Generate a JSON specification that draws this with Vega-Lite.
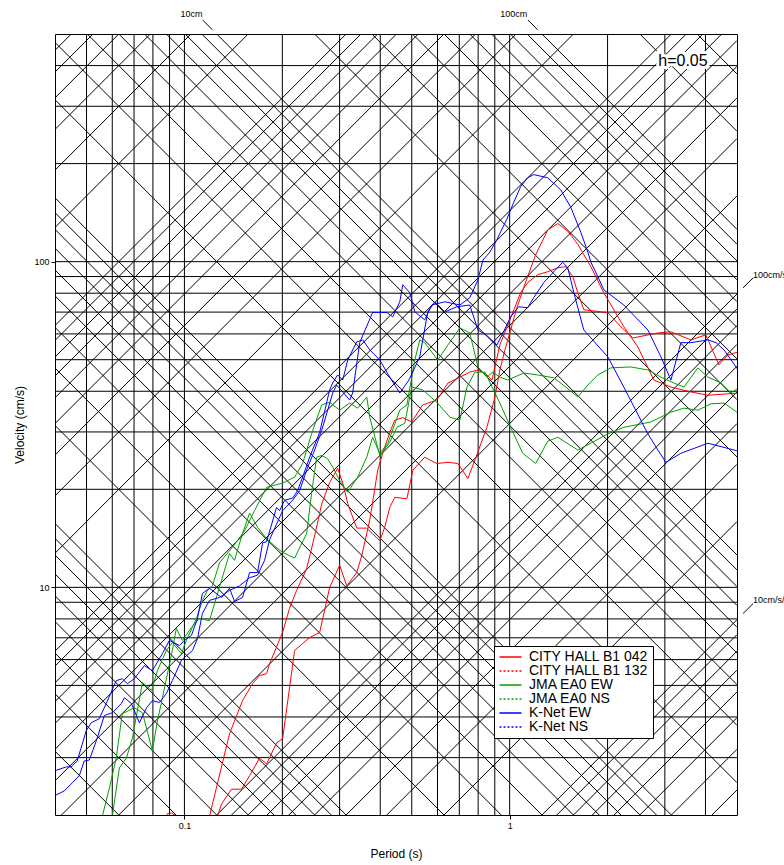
{
  "$schema": "https://vega.github.io/schema/vega-lite/v6.json",
  "autosize": {"type": "none"},
  "padding": {"left": 55, "top": 34, "right": 47, "bottom": 50},
  "width": 682,
  "height": 781,
  "background": "white",
  "config": {
    "view": {"stroke": "black", "strokeWidth": 1},
    "font": "Liberation Sans",
    "axis": {"grid": false, "domain": false, "ticks": true, "tickSize": 4, "tickColor": "black", "labelFontSize": 9, "labelFont": "Liberation Sans", "labelColor": "black", "labelPadding": 2, "titleFont": "Liberation Sans", "titleFontSize": 12, "titleFontWeight": "normal", "titleColor": "black"},
    "legend": {"orient": "none", "legendX": 439, "legendY": 612, "padding": 4, "strokeColor": "black", "fillColor": "white", "symbolSize": 121, "symbolStrokeWidth": 1.5, "labelFontSize": 14, "labelFont": "Liberation Sans", "labelColor": "black", "labelOffset": 17, "rowPadding": 0, "labelLimit": 300, "cornerRadius": 0}
  },
  "datasets": {
    "curves": [
      {"series":"CITY HALL B1 042","period":0.1194,"velocity":1.98},
      {"series":"CITY HALL B1 042","period":0.1376,"velocity":3.55},
      {"series":"CITY HALL B1 042","period":0.1509,"velocity":4.49},
      {"series":"CITY HALL B1 042","period":0.162,"velocity":5.06},
      {"series":"CITY HALL B1 042","period":0.1702,"velocity":5.36},
      {"series":"CITY HALL B1 042","period":0.1789,"velocity":5.43},
      {"series":"CITY HALL B1 042","period":0.1827,"velocity":5.83},
      {"series":"CITY HALL B1 042","period":0.2004,"velocity":7.27},
      {"series":"CITY HALL B1 042","period":0.2105,"velocity":8.62},
      {"series":"CITY HALL B1 042","period":0.2213,"velocity":9.79},
      {"series":"CITY HALL B1 042","period":0.2375,"velocity":11.4},
      {"series":"CITY HALL B1 042","period":0.2514,"velocity":14.4},
      {"series":"CITY HALL B1 042","period":0.2642,"velocity":18.0},
      {"series":"CITY HALL B1 042","period":0.2796,"velocity":21.0},
      {"series":"CITY HALL B1 042","period":0.2959,"velocity":23.2},
      {"series":"CITY HALL B1 042","period":0.3067,"velocity":20.9},
      {"series":"CITY HALL B1 042","period":0.3177,"velocity":18.1},
      {"series":"CITY HALL B1 042","period":0.3386,"velocity":15.2},
      {"series":"CITY HALL B1 042","period":0.3636,"velocity":15.2},
      {"series":"CITY HALL B1 042","period":0.3986,"velocity":13.9},
      {"series":"CITY HALL B1 042","period":0.413,"velocity":15.3},
      {"series":"CITY HALL B1 042","period":0.4279,"velocity":17.6},
      {"series":"CITY HALL B1 042","period":0.4434,"velocity":18.9},
      {"series":"CITY HALL B1 042","period":0.483,"velocity":18.7},
      {"series":"CITY HALL B1 042","period":0.504,"velocity":22.9},
      {"series":"CITY HALL B1 042","period":0.548,"velocity":25.1},
      {"series":"CITY HALL B1 042","period":0.597,"velocity":24.0},
      {"series":"CITY HALL B1 042","period":0.646,"velocity":24.2},
      {"series":"CITY HALL B1 042","period":0.693,"velocity":24.0},
      {"series":"CITY HALL B1 042","period":0.744,"velocity":21.6},
      {"series":"CITY HALL B1 042","period":0.782,"velocity":24.6},
      {"series":"CITY HALL B1 042","period":0.851,"velocity":31.0},
      {"series":"CITY HALL B1 042","period":0.901,"velocity":38.4},
      {"series":"CITY HALL B1 042","period":0.933,"velocity":46.5},
      {"series":"CITY HALL B1 042","period":0.967,"velocity":53.6},
      {"series":"CITY HALL B1 042","period":1.007,"velocity":61.7},
      {"series":"CITY HALL B1 042","period":1.043,"velocity":70.1},
      {"series":"CITY HALL B1 042","period":1.104,"velocity":83.2},
      {"series":"CITY HALL B1 042","period":1.202,"velocity":105},
      {"series":"CITY HALL B1 042","period":1.309,"velocity":125},
      {"series":"CITY HALL B1 042","period":1.406,"velocity":131},
      {"series":"CITY HALL B1 042","period":1.509,"velocity":124},
      {"series":"CITY HALL B1 042","period":1.62,"velocity":113},
      {"series":"CITY HALL B1 042","period":1.777,"velocity":96.5},
      {"series":"CITY HALL B1 042","period":1.947,"velocity":80.3},
      {"series":"CITY HALL B1 042","period":2.244,"velocity":63.1},
      {"series":"CITY HALL B1 042","period":2.478,"velocity":54.7},
      {"series":"CITY HALL B1 042","period":2.776,"velocity":43.3},
      {"series":"CITY HALL B1 042","period":3.132,"velocity":41.2},
      {"series":"CITY HALL B1 042","period":3.61,"velocity":39.8},
      {"series":"CITY HALL B1 042","period":4.07,"velocity":38.9},
      {"series":"CITY HALL B1 042","period":4.56,"velocity":39.2},
      {"series":"CITY HALL B1 042","period":5.04,"velocity":39.5},

      {"series":"CITY HALL B1 132","period":0.0838,"velocity":1.79},
      {"series":"CITY HALL B1 132","period":0.0887,"velocity":2.02},
      {"series":"CITY HALL B1 132","period":0.0912,"velocity":2.03},
      {"series":"CITY HALL B1 132","period":0.0951,"velocity":1.97},
      {"series":"CITY HALL B1 132","period":0.1,"velocity":1.72},
      {"series":"CITY HALL B1 132","period":0.1211,"velocity":1.79},
      {"series":"CITY HALL B1 132","period":0.1264,"velocity":1.98},
      {"series":"CITY HALL B1 132","period":0.13,"velocity":2.16},
      {"series":"CITY HALL B1 132","period":0.1395,"velocity":2.4},
      {"series":"CITY HALL B1 132","period":0.1498,"velocity":2.4},
      {"series":"CITY HALL B1 132","period":0.1586,"velocity":2.64},
      {"series":"CITY HALL B1 132","period":0.1702,"velocity":2.99},
      {"series":"CITY HALL B1 132","period":0.1789,"velocity":2.87},
      {"series":"CITY HALL B1 132","period":0.192,"velocity":3.33},
      {"series":"CITY HALL B1 132","period":0.2004,"velocity":3.43},
      {"series":"CITY HALL B1 132","period":0.2182,"velocity":6.4},
      {"series":"CITY HALL B1 132","period":0.2426,"velocity":7.01},
      {"series":"CITY HALL B1 132","period":0.2605,"velocity":7.27},
      {"series":"CITY HALL B1 132","period":0.2796,"velocity":10.0},
      {"series":"CITY HALL B1 132","period":0.3002,"velocity":11.7},
      {"series":"CITY HALL B1 132","period":0.3155,"velocity":10.1},
      {"series":"CITY HALL B1 132","period":0.3386,"velocity":11.1},
      {"series":"CITY HALL B1 132","period":0.3509,"velocity":12.5},
      {"series":"CITY HALL B1 132","period":0.3714,"velocity":16.1},
      {"series":"CITY HALL B1 132","period":0.393,"velocity":22.9},
      {"series":"CITY HALL B1 132","period":0.407,"velocity":25.8},
      {"series":"CITY HALL B1 132","period":0.4279,"velocity":29.9},
      {"series":"CITY HALL B1 132","period":0.4434,"velocity":32.6},
      {"series":"CITY HALL B1 132","period":0.469,"velocity":33.2},
      {"series":"CITY HALL B1 132","period":0.5,"velocity":32.2},
      {"series":"CITY HALL B1 132","period":0.54,"velocity":36.3},
      {"series":"CITY HALL B1 132","period":0.597,"velocity":37.6},
      {"series":"CITY HALL B1 132","period":0.646,"velocity":42.4},
      {"series":"CITY HALL B1 132","period":0.703,"velocity":44.2},
      {"series":"CITY HALL B1 132","period":0.754,"velocity":45.8},
      {"series":"CITY HALL B1 132","period":0.799,"velocity":46.5},
      {"series":"CITY HALL B1 132","period":0.851,"velocity":44.9},
      {"series":"CITY HALL B1 132","period":0.882,"velocity":43.3},
      {"series":"CITY HALL B1 132","period":0.933,"velocity":55.5},
      {"series":"CITY HALL B1 132","period":1.007,"velocity":67.2},
      {"series":"CITY HALL B1 132","period":1.081,"velocity":80.3},
      {"series":"CITY HALL B1 132","period":1.136,"velocity":86.2},
      {"series":"CITY HALL B1 132","period":1.219,"velocity":91.2},
      {"series":"CITY HALL B1 132","period":1.309,"velocity":93.1},
      {"series":"CITY HALL B1 132","period":1.406,"velocity":95.8},
      {"series":"CITY HALL B1 132","period":1.488,"velocity":96.5},
      {"series":"CITY HALL B1 132","period":1.563,"velocity":89.9},
      {"series":"CITY HALL B1 132","period":1.62,"velocity":80.3},
      {"series":"CITY HALL B1 132","period":1.69,"velocity":71.2},
      {"series":"CITY HALL B1 132","period":1.906,"velocity":70.1},
      {"series":"CITY HALL B1 132","period":2.004,"velocity":69.7},
      {"series":"CITY HALL B1 132","period":2.197,"velocity":63.1},
      {"series":"CITY HALL B1 132","period":2.392,"velocity":58.3},
      {"series":"CITY HALL B1 132","period":2.856,"velocity":60.4},
      {"series":"CITY HALL B1 132","period":3.132,"velocity":60.9},
      {"series":"CITY HALL B1 132","period":3.61,"velocity":57.5},
      {"series":"CITY HALL B1 132","period":4.01,"velocity":59.6},
      {"series":"CITY HALL B1 132","period":4.4,"velocity":48.2},
      {"series":"CITY HALL B1 132","period":4.69,"velocity":51.7},
      {"series":"CITY HALL B1 132","period":5.04,"velocity":52.8},

      {"series":"JMA EA0 EW","period":0.0551,"velocity":1.85},
      {"series":"JMA EA0 EW","period":0.0559,"velocity":1.98},
      {"series":"JMA EA0 EW","period":0.0588,"velocity":2.42},
      {"series":"JMA EA0 EW","period":0.0617,"velocity":2.99},
      {"series":"JMA EA0 EW","period":0.0644,"velocity":4.09},
      {"series":"JMA EA0 EW","period":0.0701,"velocity":4.27},
      {"series":"JMA EA0 EW","period":0.0743,"velocity":4.12},
      {"series":"JMA EA0 EW","period":0.0797,"velocity":3.15},
      {"series":"JMA EA0 EW","period":0.0826,"velocity":3.89},
      {"series":"JMA EA0 EW","period":0.0856,"velocity":4.58},
      {"series":"JMA EA0 EW","period":0.0918,"velocity":6.4},
      {"series":"JMA EA0 EW","period":0.0944,"velocity":7.48},
      {"series":"JMA EA0 EW","period":0.0986,"velocity":6.87},
      {"series":"JMA EA0 EW","period":0.1051,"velocity":7.53},
      {"series":"JMA EA0 EW","period":0.1112,"velocity":8.03},
      {"series":"JMA EA0 EW","period":0.1194,"velocity":7.9},
      {"series":"JMA EA0 EW","period":0.1254,"velocity":9.31},
      {"series":"JMA EA0 EW","period":0.13,"velocity":10.5},
      {"series":"JMA EA0 EW","period":0.1376,"velocity":12.7},
      {"series":"JMA EA0 EW","period":0.1426,"velocity":12.1},
      {"series":"JMA EA0 EW","period":0.1498,"velocity":14.3},
      {"series":"JMA EA0 EW","period":0.1586,"velocity":16.9},
      {"series":"JMA EA0 EW","period":0.1678,"velocity":15.3},
      {"series":"JMA EA0 EW","period":0.1789,"velocity":14.1},
      {"series":"JMA EA0 EW","period":0.1893,"velocity":13.4},
      {"series":"JMA EA0 EW","period":0.2004,"velocity":12.8},
      {"series":"JMA EA0 EW","period":0.2182,"velocity":12.3},
      {"series":"JMA EA0 EW","period":0.2291,"velocity":13.6},
      {"series":"JMA EA0 EW","period":0.2375,"velocity":14.6},
      {"series":"JMA EA0 EW","period":0.246,"velocity":19.4},
      {"series":"JMA EA0 EW","period":0.255,"velocity":25.1},
      {"series":"JMA EA0 EW","period":0.2642,"velocity":25.4},
      {"series":"JMA EA0 EW","period":0.2757,"velocity":24.8},
      {"series":"JMA EA0 EW","period":0.2856,"velocity":23.4},
      {"series":"JMA EA0 EW","period":0.3002,"velocity":21.3},
      {"series":"JMA EA0 EW","period":0.3177,"velocity":19.6},
      {"series":"JMA EA0 EW","period":0.3409,"velocity":21.8},
      {"series":"JMA EA0 EW","period":0.3636,"velocity":25.1},
      {"series":"JMA EA0 EW","period":0.379,"velocity":28.9},
      {"series":"JMA EA0 EW","period":0.3986,"velocity":25.8},
      {"series":"JMA EA0 EW","period":0.422,"velocity":27.7},
      {"series":"JMA EA0 EW","period":0.4594,"velocity":35.0},
      {"series":"JMA EA0 EW","period":0.483,"velocity":36.3},
      {"series":"JMA EA0 EW","period":0.511,"velocity":49.9},
      {"series":"JMA EA0 EW","period":0.529,"velocity":57.5},
      {"series":"JMA EA0 EW","period":0.548,"velocity":56.4},
      {"series":"JMA EA0 EW","period":0.601,"velocity":49.9},
      {"series":"JMA EA0 EW","period":0.646,"velocity":55.5},
      {"series":"JMA EA0 EW","period":0.703,"velocity":62.6},
      {"series":"JMA EA0 EW","period":0.754,"velocity":60.4},
      {"series":"JMA EA0 EW","period":0.799,"velocity":47.5},
      {"series":"JMA EA0 EW","period":0.851,"velocity":44.2},
      {"series":"JMA EA0 EW","period":0.888,"velocity":45.8},
      {"series":"JMA EA0 EW","period":0.933,"velocity":44.2},
      {"series":"JMA EA0 EW","period":0.987,"velocity":43.3},
      {"series":"JMA EA0 EW","period":1.104,"velocity":45.5},
      {"series":"JMA EA0 EW","period":1.219,"velocity":44.9},
      {"series":"JMA EA0 EW","period":1.366,"velocity":44.0},
      {"series":"JMA EA0 EW","period":1.488,"velocity":41.2},
      {"series":"JMA EA0 EW","period":1.62,"velocity":38.4},
      {"series":"JMA EA0 EW","period":1.739,"velocity":41.8},
      {"series":"JMA EA0 EW","period":1.867,"velocity":44.9},
      {"series":"JMA EA0 EW","period":2.047,"velocity":47.2},
      {"series":"JMA EA0 EW","period":2.359,"velocity":47.5},
      {"series":"JMA EA0 EW","period":2.66,"velocity":46.5},
      {"series":"JMA EA0 EW","period":2.918,"velocity":44.2},
      {"series":"JMA EA0 EW","period":3.2,"velocity":42.4},
      {"series":"JMA EA0 EW","period":3.435,"velocity":41.2},
      {"series":"JMA EA0 EW","period":3.79,"velocity":47.2},
      {"series":"JMA EA0 EW","period":4.07,"velocity":44.2},
      {"series":"JMA EA0 EW","period":4.47,"velocity":42.4},
      {"series":"JMA EA0 EW","period":4.79,"velocity":39.5},
      {"series":"JMA EA0 EW","period":5.04,"velocity":40.9},

      {"series":"JMA EA0 NS","period":0.0588,"velocity":1.79},
      {"series":"JMA EA0 NS","period":0.06,"velocity":1.98},
      {"series":"JMA EA0 NS","period":0.0631,"velocity":2.79},
      {"series":"JMA EA0 NS","period":0.0663,"velocity":2.99},
      {"series":"JMA EA0 NS","period":0.0692,"velocity":3.45},
      {"series":"JMA EA0 NS","period":0.0743,"velocity":5.1},
      {"series":"JMA EA0 NS","period":0.0792,"velocity":4.82},
      {"series":"JMA EA0 NS","period":0.0826,"velocity":5.55},
      {"series":"JMA EA0 NS","period":0.088,"velocity":6.4},
      {"series":"JMA EA0 NS","period":0.0918,"velocity":6.77},
      {"series":"JMA EA0 NS","period":0.0979,"velocity":6.26},
      {"series":"JMA EA0 NS","period":0.1014,"velocity":6.87},
      {"series":"JMA EA0 NS","period":0.1089,"velocity":8.03},
      {"series":"JMA EA0 NS","period":0.1136,"velocity":9.12},
      {"series":"JMA EA0 NS","period":0.1177,"velocity":9.79},
      {"series":"JMA EA0 NS","period":0.1219,"velocity":10.1},
      {"series":"JMA EA0 NS","period":0.1282,"velocity":11.9},
      {"series":"JMA EA0 NS","period":0.1406,"velocity":13.3},
      {"series":"JMA EA0 NS","period":0.153,"velocity":14.9},
      {"series":"JMA EA0 NS","period":0.1643,"velocity":17.2},
      {"series":"JMA EA0 NS","period":0.1789,"velocity":20.3},
      {"series":"JMA EA0 NS","period":0.2004,"velocity":20.9},
      {"series":"JMA EA0 NS","period":0.2182,"velocity":21.8},
      {"series":"JMA EA0 NS","period":0.2309,"velocity":24.0},
      {"series":"JMA EA0 NS","period":0.246,"velocity":29.6},
      {"series":"JMA EA0 NS","period":0.2642,"velocity":36.3},
      {"series":"JMA EA0 NS","period":0.2796,"velocity":37.0},
      {"series":"JMA EA0 NS","period":0.3002,"velocity":35.0},
      {"series":"JMA EA0 NS","period":0.3222,"velocity":36.8},
      {"series":"JMA EA0 NS","period":0.3409,"velocity":35.5},
      {"series":"JMA EA0 NS","period":0.3636,"velocity":38.4},
      {"series":"JMA EA0 NS","period":0.3714,"velocity":33.3},
      {"series":"JMA EA0 NS","period":0.3986,"velocity":25.4},
      {"series":"JMA EA0 NS","period":0.4279,"velocity":27.9},
      {"series":"JMA EA0 NS","period":0.45,"velocity":31.0},
      {"series":"JMA EA0 NS","period":0.476,"velocity":31.9},
      {"series":"JMA EA0 NS","period":0.5,"velocity":41.2},
      {"series":"JMA EA0 NS","period":0.54,"velocity":40.4},
      {"series":"JMA EA0 NS","period":0.597,"velocity":37.0},
      {"series":"JMA EA0 NS","period":0.655,"velocity":33.3},
      {"series":"JMA EA0 NS","period":0.703,"velocity":32.6},
      {"series":"JMA EA0 NS","period":0.739,"velocity":41.2},
      {"series":"JMA EA0 NS","period":0.782,"velocity":45.8},
      {"series":"JMA EA0 NS","period":0.839,"velocity":45.8},
      {"series":"JMA EA0 NS","period":0.933,"velocity":36.8},
      {"series":"JMA EA0 NS","period":1.007,"velocity":31.0},
      {"series":"JMA EA0 NS","period":1.097,"velocity":25.8},
      {"series":"JMA EA0 NS","period":1.202,"velocity":24.0},
      {"series":"JMA EA0 NS","period":1.309,"velocity":28.1},
      {"series":"JMA EA0 NS","period":1.406,"velocity":28.9},
      {"series":"JMA EA0 NS","period":1.62,"velocity":26.4},
      {"series":"JMA EA0 NS","period":1.777,"velocity":27.7},
      {"series":"JMA EA0 NS","period":2.004,"velocity":29.6},
      {"series":"JMA EA0 NS","period":2.244,"velocity":31.0},
      {"series":"JMA EA0 NS","period":2.718,"velocity":32.2},
      {"series":"JMA EA0 NS","period":3.132,"velocity":34.5},
      {"series":"JMA EA0 NS","period":3.435,"velocity":35.5},
      {"series":"JMA EA0 NS","period":3.79,"velocity":35.0},
      {"series":"JMA EA0 NS","period":4.16,"velocity":36.6},
      {"series":"JMA EA0 NS","period":4.56,"velocity":36.8},
      {"series":"JMA EA0 NS","period":5.04,"velocity":34.3},

      {"series":"K-Net EW","period":0.0398,"velocity":2.29},
      {"series":"K-Net EW","period":0.0427,"velocity":2.37},
      {"series":"K-Net EW","period":0.0452,"velocity":2.51},
      {"series":"K-Net EW","period":0.0475,"velocity":2.64},
      {"series":"K-Net EW","period":0.0492,"velocity":2.93},
      {"series":"K-Net EW","period":0.051,"velocity":2.95},
      {"series":"K-Net EW","period":0.0536,"velocity":3.38},
      {"series":"K-Net EW","period":0.0567,"velocity":4.04},
      {"series":"K-Net EW","period":0.06,"velocity":4.12},
      {"series":"K-Net EW","period":0.064,"velocity":4.4},
      {"series":"K-Net EW","period":0.0654,"velocity":4.58},
      {"series":"K-Net EW","period":0.0687,"velocity":4.4},
      {"series":"K-Net EW","period":0.0727,"velocity":3.84},
      {"series":"K-Net EW","period":0.0765,"velocity":4.27},
      {"series":"K-Net EW","period":0.0797,"velocity":4.49},
      {"series":"K-Net EW","period":0.0838,"velocity":4.43},
      {"series":"K-Net EW","period":0.088,"velocity":4.72},
      {"series":"K-Net EW","period":0.0918,"velocity":5.17},
      {"series":"K-Net EW","period":0.0979,"velocity":5.97},
      {"series":"K-Net EW","period":0.1,"velocity":6.09},
      {"series":"K-Net EW","period":0.1059,"velocity":6.4},
      {"series":"K-Net EW","period":0.1097,"velocity":6.97},
      {"series":"K-Net EW","period":0.1136,"velocity":8.32},
      {"series":"K-Net EW","period":0.1194,"velocity":9.12},
      {"series":"K-Net EW","period":0.1282,"velocity":9.31},
      {"series":"K-Net EW","period":0.1376,"velocity":9.79},
      {"series":"K-Net EW","period":0.1477,"velocity":10.1},
      {"series":"K-Net EW","period":0.1586,"velocity":10.7},
      {"series":"K-Net EW","period":0.1678,"velocity":10.9},
      {"series":"K-Net EW","period":0.1764,"velocity":12.1},
      {"series":"K-Net EW","period":0.1827,"velocity":14.0},
      {"series":"K-Net EW","period":0.2004,"velocity":17.2},
      {"series":"K-Net EW","period":0.2151,"velocity":18.5},
      {"series":"K-Net EW","period":0.226,"velocity":19.8},
      {"series":"K-Net EW","period":0.2375,"velocity":22.9},
      {"series":"K-Net EW","period":0.2514,"velocity":26.4},
      {"series":"K-Net EW","period":0.2642,"velocity":30.3},
      {"series":"K-Net EW","period":0.2757,"velocity":35.0},
      {"series":"K-Net EW","period":0.2856,"velocity":39.5},
      {"series":"K-Net EW","period":0.2938,"velocity":41.8},
      {"series":"K-Net EW","period":0.3067,"velocity":39.8},
      {"series":"K-Net EW","period":0.3222,"velocity":37.6},
      {"series":"K-Net EW","period":0.329,"velocity":39.5},
      {"series":"K-Net EW","period":0.3459,"velocity":56.4},
      {"series":"K-Net EW","period":0.379,"velocity":69.8},
      {"series":"K-Net EW","period":0.419,"velocity":69.8},
      {"series":"K-Net EW","period":0.437,"velocity":67.7},
      {"series":"K-Net EW","period":0.4594,"velocity":75.3},
      {"series":"K-Net EW","period":0.469,"velocity":84.9},
      {"series":"K-Net EW","period":0.493,"velocity":80.3},
      {"series":"K-Net EW","period":0.511,"velocity":70.1},
      {"series":"K-Net EW","period":0.548,"velocity":66.3},
      {"series":"K-Net EW","period":0.576,"velocity":73.6},
      {"series":"K-Net EW","period":0.632,"velocity":75.3},
      {"series":"K-Net EW","period":0.703,"velocity":73.6},
      {"series":"K-Net EW","period":0.754,"velocity":77.5},
      {"series":"K-Net EW","period":0.799,"velocity":87.9},
      {"series":"K-Net EW","period":0.827,"velocity":101},
      {"series":"K-Net EW","period":0.869,"velocity":107},
      {"series":"K-Net EW","period":0.914,"velocity":117},
      {"series":"K-Net EW","period":0.98,"velocity":135},
      {"series":"K-Net EW","period":1.029,"velocity":152},
      {"series":"K-Net EW","period":1.081,"velocity":170},
      {"series":"K-Net EW","period":1.136,"velocity":181},
      {"series":"K-Net EW","period":1.185,"velocity":185},
      {"series":"K-Net EW","period":1.309,"velocity":181},
      {"series":"K-Net EW","period":1.436,"velocity":166},
      {"series":"K-Net EW","period":1.541,"velocity":147},
      {"series":"K-Net EW","period":1.655,"velocity":123},
      {"series":"K-Net EW","period":1.739,"velocity":107},
      {"series":"K-Net EW","period":1.777,"velocity":99.6},
      {"series":"K-Net EW","period":1.867,"velocity":89.9},
      {"series":"K-Net EW","period":1.947,"velocity":82.0},
      {"series":"K-Net EW","period":2.244,"velocity":73.6},
      {"series":"K-Net EW","period":2.66,"velocity":61.7},
      {"series":"K-Net EW","period":2.918,"velocity":51.0},
      {"series":"K-Net EW","period":3.132,"velocity":43.3},
      {"series":"K-Net EW","period":3.36,"velocity":56.4},
      {"series":"K-Net EW","period":3.61,"velocity":56.4},
      {"series":"K-Net EW","period":4.07,"velocity":57.5},
      {"series":"K-Net EW","period":4.31,"velocity":56.4},
      {"series":"K-Net EW","period":4.56,"velocity":53.6},
      {"series":"K-Net EW","period":5.04,"velocity":46.5},

      {"series":"K-Net NS","period":0.0398,"velocity":2.73},
      {"series":"K-Net NS","period":0.0433,"velocity":2.81},
      {"series":"K-Net NS","period":0.0449,"velocity":2.81},
      {"series":"K-Net NS","period":0.0468,"velocity":2.93},
      {"series":"K-Net NS","period":0.0499,"velocity":3.63},
      {"series":"K-Net NS","period":0.0517,"velocity":3.84},
      {"series":"K-Net NS","period":0.0547,"velocity":3.95},
      {"series":"K-Net NS","period":0.0575,"velocity":4.4},
      {"series":"K-Net NS","period":0.0617,"velocity":5.17},
      {"series":"K-Net NS","period":0.0644,"velocity":5.24},
      {"series":"K-Net NS","period":0.0668,"velocity":5.06},
      {"series":"K-Net NS","period":0.0701,"velocity":5.24},
      {"series":"K-Net NS","period":0.0753,"velocity":5.75},
      {"series":"K-Net NS","period":0.0797,"velocity":5.55},
      {"series":"K-Net NS","period":0.0856,"velocity":6.26},
      {"series":"K-Net NS","period":0.0899,"velocity":6.87},
      {"series":"K-Net NS","period":0.0965,"velocity":6.63},
      {"series":"K-Net NS","period":0.1,"velocity":6.87},
      {"series":"K-Net NS","period":0.1051,"velocity":7.12},
      {"series":"K-Net NS","period":0.1097,"velocity":8.03},
      {"series":"K-Net NS","period":0.1136,"velocity":9.58},
      {"series":"K-Net NS","period":0.1194,"velocity":9.93},
      {"series":"K-Net NS","period":0.13,"velocity":9.31},
      {"series":"K-Net NS","period":0.1376,"velocity":9.93},
      {"series":"K-Net NS","period":0.1426,"velocity":9.05},
      {"series":"K-Net NS","period":0.1509,"velocity":9.31},
      {"series":"K-Net NS","period":0.1586,"velocity":11.1},
      {"series":"K-Net NS","period":0.1678,"velocity":11.1},
      {"series":"K-Net NS","period":0.1739,"velocity":13.7},
      {"series":"K-Net NS","period":0.1789,"velocity":13.8},
      {"series":"K-Net NS","period":0.192,"velocity":17.6},
      {"series":"K-Net NS","period":0.1961,"velocity":17.2},
      {"series":"K-Net NS","period":0.2032,"velocity":18.5},
      {"series":"K-Net NS","period":0.2151,"velocity":18.8},
      {"series":"K-Net NS","period":0.2228,"velocity":19.8},
      {"series":"K-Net NS","period":0.2309,"velocity":21.8},
      {"series":"K-Net NS","period":0.2426,"velocity":25.1},
      {"series":"K-Net NS","period":0.2605,"velocity":29.9},
      {"series":"K-Net NS","period":0.2796,"velocity":40.4},
      {"series":"K-Net NS","period":0.2856,"velocity":42.4},
      {"series":"K-Net NS","period":0.2959,"velocity":44.9},
      {"series":"K-Net NS","period":0.3067,"velocity":43.3},
      {"series":"K-Net NS","period":0.3177,"velocity":49.9},
      {"series":"K-Net NS","period":0.3386,"velocity":56.7},
      {"series":"K-Net NS","period":0.3533,"velocity":57.5},
      {"series":"K-Net NS","period":0.3714,"velocity":53.6},
      {"series":"K-Net NS","period":0.3986,"velocity":49.9},
      {"series":"K-Net NS","period":0.4279,"velocity":44.2},
      {"series":"K-Net NS","period":0.4594,"velocity":39.5},
      {"series":"K-Net NS","period":0.49,"velocity":43.3},
      {"series":"K-Net NS","period":0.529,"velocity":51.0},
      {"series":"K-Net NS","period":0.56,"velocity":70.1},
      {"series":"K-Net NS","period":0.589,"velocity":75.3},
      {"series":"K-Net NS","period":0.632,"velocity":70.1},
      {"series":"K-Net NS","period":0.688,"velocity":72.7},
      {"series":"K-Net NS","period":0.754,"velocity":73.6},
      {"series":"K-Net NS","period":0.799,"velocity":61.7},
      {"series":"K-Net NS","period":0.851,"velocity":59.3},
      {"series":"K-Net NS","period":0.914,"velocity":55.5},
      {"series":"K-Net NS","period":0.954,"velocity":60.4},
      {"series":"K-Net NS","period":1.007,"velocity":67.7},
      {"series":"K-Net NS","period":1.066,"velocity":72.7},
      {"series":"K-Net NS","period":1.136,"velocity":72.2},
      {"series":"K-Net NS","period":1.185,"velocity":77.5},
      {"series":"K-Net NS","period":1.273,"velocity":86.2},
      {"series":"K-Net NS","period":1.366,"velocity":93.1},
      {"series":"K-Net NS","period":1.456,"velocity":99.6},
      {"series":"K-Net NS","period":1.509,"velocity":95.8},
      {"series":"K-Net NS","period":1.575,"velocity":80.3},
      {"series":"K-Net NS","period":1.69,"velocity":61.7},
      {"series":"K-Net NS","period":2.004,"velocity":51.0},
      {"series":"K-Net NS","period":2.244,"velocity":41.2},
      {"series":"K-Net NS","period":2.66,"velocity":29.6},
      {"series":"K-Net NS","period":2.856,"velocity":26.4},
      {"series":"K-Net NS","period":3.022,"velocity":24.2},
      {"series":"K-Net NS","period":3.36,"velocity":25.8},
      {"series":"K-Net NS","period":4.07,"velocity":27.7},
      {"series":"K-Net NS","period":4.56,"velocity":26.9},
      {"series":"K-Net NS","period":5.04,"velocity":26.2}
    ],
    "diagonals": [
      {"p1":0.04,"v1":3.1416,"p2":5,"v2":0.025133},
      {"p1":0.04,"v1":4.7124,"p2":5,"v2":0.0377},
      {"p1":0.04,"v1":6.2832,"p2":5,"v2":0.05027},
      {"p1":0.04,"v1":7.854,"p2":5,"v2":0.06283},
      {"p1":0.04,"v1":9.4248,"p2":5,"v2":0.0754},
      {"p1":0.04,"v1":10.996,"p2":5,"v2":0.08796},
      {"p1":0.04,"v1":12.566,"p2":5,"v2":0.10053},
      {"p1":0.04,"v1":14.137,"p2":5,"v2":0.1131},
      {"p1":0.04,"v1":15.708,"p2":5,"v2":0.12566},
      {"p1":0.04,"v1":31.416,"p2":5,"v2":0.25133},
      {"p1":0.04,"v1":47.124,"p2":5,"v2":0.377},
      {"p1":0.04,"v1":62.832,"p2":5,"v2":0.50265},
      {"p1":0.04,"v1":78.54,"p2":5,"v2":0.62832},
      {"p1":0.04,"v1":94.248,"p2":5,"v2":0.75398},
      {"p1":0.04,"v1":109.956,"p2":5,"v2":0.87965},
      {"p1":0.04,"v1":125.664,"p2":5,"v2":1.00531},
      {"p1":0.04,"v1":141.372,"p2":5,"v2":1.13097},
      {"p1":0.04,"v1":157.08,"p2":5,"v2":1.25664},
      {"p1":0.04,"v1":314.16,"p2":5,"v2":2.51327},
      {"p1":0.04,"v1":471.24,"p2":5,"v2":3.76991},
      {"p1":0.04,"v1":628.32,"p2":5,"v2":5.02655},
      {"p1":0.04,"v1":785.4,"p2":5,"v2":6.28319},
      {"p1":0.04,"v1":942.48,"p2":5,"v2":7.53982},
      {"p1":0.04,"v1":1099.56,"p2":5,"v2":8.79646},
      {"p1":0.04,"v1":1256.64,"p2":5,"v2":10.0531},
      {"p1":0.04,"v1":1413.72,"p2":5,"v2":11.3097},
      {"p1":0.04,"v1":1570.8,"p2":5,"v2":12.5664},
      {"p1":0.04,"v1":3141.6,"p2":5,"v2":25.1327},
      {"p1":0.04,"v1":4712.4,"p2":5,"v2":37.6991},
      {"p1":0.04,"v1":6283.2,"p2":5,"v2":50.2655},
      {"p1":0.04,"v1":7854,"p2":5,"v2":62.8319},
      {"p1":0.04,"v1":9424.8,"p2":5,"v2":75.3982},
      {"p1":0.04,"v1":10995.6,"p2":5,"v2":87.9646},
      {"p1":0.04,"v1":12566.4,"p2":5,"v2":100.531},
      {"p1":0.04,"v1":14137.2,"p2":5,"v2":113.097},
      {"p1":0.04,"v1":15708,"p2":5,"v2":125.664},
      {"p1":0.04,"v1":31416,"p2":5,"v2":251.327},
      {"p1":0.04,"v1":47124,"p2":5,"v2":376.991},
      {"p1":0.04,"v1":0.019099,"p2":5,"v2":2.38732},
      {"p1":0.04,"v1":0.025465,"p2":5,"v2":3.1831},
      {"p1":0.04,"v1":0.031831,"p2":5,"v2":3.97887},
      {"p1":0.04,"v1":0.038197,"p2":5,"v2":4.77465},
      {"p1":0.04,"v1":0.044563,"p2":5,"v2":5.57042},
      {"p1":0.04,"v1":0.05093,"p2":5,"v2":6.3662},
      {"p1":0.04,"v1":0.057296,"p2":5,"v2":7.16197},
      {"p1":0.04,"v1":0.063662,"p2":5,"v2":7.95775},
      {"p1":0.04,"v1":0.127324,"p2":5,"v2":15.9155},
      {"p1":0.04,"v1":0.190986,"p2":5,"v2":23.8732},
      {"p1":0.04,"v1":0.254648,"p2":5,"v2":31.831},
      {"p1":0.04,"v1":0.31831,"p2":5,"v2":39.7887},
      {"p1":0.04,"v1":0.381972,"p2":5,"v2":47.7465},
      {"p1":0.04,"v1":0.445634,"p2":5,"v2":55.7042},
      {"p1":0.04,"v1":0.509296,"p2":5,"v2":63.662},
      {"p1":0.04,"v1":0.572958,"p2":5,"v2":71.6197},
      {"p1":0.04,"v1":0.63662,"p2":5,"v2":79.5775},
      {"p1":0.04,"v1":1.27324,"p2":5,"v2":159.155},
      {"p1":0.04,"v1":1.90986,"p2":5,"v2":238.732},
      {"p1":0.04,"v1":2.54648,"p2":5,"v2":318.31},
      {"p1":0.04,"v1":3.1831,"p2":5,"v2":397.887},
      {"p1":0.04,"v1":3.81972,"p2":5,"v2":477.465},
      {"p1":0.04,"v1":4.45634,"p2":5,"v2":557.042},
      {"p1":0.04,"v1":5.09296,"p2":5,"v2":636.62},
      {"p1":0.04,"v1":5.72958,"p2":5,"v2":716.197},
      {"p1":0.04,"v1":6.3662,"p2":5,"v2":795.775},
      {"p1":0.04,"v1":12.7324,"p2":5,"v2":1591.55},
      {"p1":0.04,"v1":19.0986,"p2":5,"v2":2387.32},
      {"p1":0.04,"v1":25.4648,"p2":5,"v2":3183.1},
      {"p1":0.04,"v1":31.831,"p2":5,"v2":3978.87},
      {"p1":0.04,"v1":38.1972,"p2":5,"v2":4774.65},
      {"p1":0.04,"v1":44.5634,"p2":5,"v2":5570.42},
      {"p1":0.04,"v1":50.9296,"p2":5,"v2":6366.2},
      {"p1":0.04,"v1":57.2958,"p2":5,"v2":7161.97},
      {"p1":0.04,"v1":63.662,"p2":5,"v2":7957.75},
      {"p1":0.04,"v1":127.324,"p2":5,"v2":15915.5},
      {"p1":0.04,"v1":190.986,"p2":5,"v2":23873.2},
      {"p1":0.04,"v1":254.648,"p2":5,"v2":31831},
      {"p1":0.04,"v1":318.31,"p2":5,"v2":39788.7},
      {"p1":0.04,"v1":381.972,"p2":5,"v2":47746.5},
      {"p1":0.04,"v1":445.634,"p2":5,"v2":55704.2}
    ]
  },
  "layer": [
    {
      "data": {"values": [{"period":0.05},{"period":0.06},{"period":0.07},{"period":0.08},{"period":0.09},{"period":0.1},{"period":0.2},{"period":0.3},{"period":0.4},{"period":0.5},{"period":0.6},{"period":0.7},{"period":0.8},{"period":0.9},{"period":1},{"period":2},{"period":3},{"period":4}]},
      "mark": {"type": "rule", "stroke": "black", "strokeWidth": 1},
      "encoding": {"x": {"field": "period", "type": "quantitative", "scale": {"type": "log", "domain": [0.04, 5], "nice": false},
        "axis": {"values": [0.1, 1], "format": "~g", "title": "Period (s)", "titleY": 38, "titleBaseline": "middle"}}}
    },
    {
      "data": {"values": [{"velocity":3},{"velocity":4},{"velocity":5},{"velocity":6},{"velocity":7},{"velocity":8},{"velocity":9},{"velocity":10},{"velocity":20},{"velocity":30},{"velocity":40},{"velocity":50},{"velocity":60},{"velocity":70},{"velocity":80},{"velocity":90},{"velocity":100},{"velocity":200},{"velocity":300},{"velocity":400}]},
      "mark": {"type": "rule", "stroke": "black", "strokeWidth": 1},
      "encoding": {"y": {"field": "velocity", "type": "quantitative", "scale": {"type": "log", "domain": [2, 500], "nice": false},
        "axis": {"values": [10, 100], "format": "~g", "title": "Velocity (cm/s)", "titleX": -36, "titleBaseline": "middle"}}}
    },
    {
      "data": {"name": "diagonals"},
      "mark": {"type": "rule", "stroke": "black", "strokeWidth": 1, "clip": true},
      "encoding": {
        "x": {"field": "p1", "type": "quantitative", "scale": {"type": "log", "domain": [0.04, 5], "nice": false},
          "axis": {"values": [0.1, 1], "format": "~g", "title": "Period (s)", "titleY": 38, "titleBaseline": "middle"}},
        "x2": {"field": "p2"},
        "y": {"field": "v1", "type": "quantitative", "scale": {"type": "log", "domain": [2, 500], "nice": false},
          "axis": {"values": [10, 100], "format": "~g", "title": "Velocity (cm/s)", "titleX": -36, "titleBaseline": "middle"}},
        "y2": {"field": "v2"}
      }
    },
    {
      "data": {"name": "curves"},
      "mark": {"type": "line", "strokeWidth": 1, "clip": true},
      "encoding": {
        "x": {"field": "period", "type": "quantitative", "scale": {"type": "log", "domain": [0.04, 5], "nice": false},
          "axis": {"values": [0.1, 1], "format": "~g", "title": "Period (s)", "titleY": 38, "titleBaseline": "middle"}},
        "y": {"field": "velocity", "type": "quantitative", "scale": {"type": "log", "domain": [2, 500], "nice": false},
          "axis": {"values": [10, 100], "format": "~g", "title": "Velocity (cm/s)", "titleX": -36, "titleBaseline": "middle"}},
        "color": {"field": "series", "type": "nominal",
                  "scale": {"domain": ["CITY HALL B1 042","CITY HALL B1 132","JMA EA0 EW","JMA EA0 NS","K-Net EW","K-Net NS"],
                            "range": ["#ff0000","#ff0000","#00a000","#00a000","#0000ff","#0000ff"]},
                  "legend": {"title": null, "symbolType": "M-1,0H3", "symbolSize": 121}}
      }
    },
    {
      "data": {"name": "curves"},
      "transform": [{"filter": "datum.velocity < 0"}],
      "mark": {"type": "line", "strokeWidth": 1, "clip": true},
      "encoding": {
        "x": {"field": "period", "type": "quantitative", "scale": {"type": "log", "domain": [0.04, 5], "nice": false},
          "axis": {"values": [0.1, 1], "format": "~g", "title": "Period (s)", "titleY": 38, "titleBaseline": "middle"}},
        "y": {"field": "velocity", "type": "quantitative", "scale": {"type": "log", "domain": [2, 500], "nice": false},
          "axis": {"values": [10, 100], "format": "~g", "title": "Velocity (cm/s)", "titleX": -36, "titleBaseline": "middle"}},
        "color": {"field": "series", "type": "nominal",
                  "scale": {"domain": ["CITY HALL B1 042","CITY HALL B1 132","JMA EA0 EW","JMA EA0 NS","K-Net EW","K-Net NS"],
                            "range": ["#ff0000","#ff0000","#00a000","#00a000","#0000ff","#0000ff"]},
                  "legend": {"title": null, "symbolType": "M-1,0H3", "symbolSize": 121}},
        "strokeDash": {"field": "series", "type": "nominal",
                  "scale": {"domain": ["CITY HALL B1 042","CITY HALL B1 132","JMA EA0 EW","JMA EA0 NS","K-Net EW","K-Net NS"],
                            "range": [[1,0],[2,2],[1,0],[2,2],[1,0],[2,2]]},
                  "legend": {"title": null, "symbolType": "M-1,0H3", "symbolSize": 121}}
      }
    },
    {
      "data": {"values": [
        {"p1":0.1138,"v1":552,"p2":0.1219,"v2":515},
        {"p1":1.138,"v1":552,"p2":1.219,"v2":515},
        {"p1":5.22,"v1":83.1,"p2":5.6,"v2":89.1},
        {"p1":5.22,"v1":8.31,"p2":5.6,"v2":8.91}
      ]},
      "mark": {"type": "rule", "stroke": "black", "strokeWidth": 1, "clip": false},
      "encoding": {
        "x": {"field": "p1", "type": "quantitative", "scale": {"type": "log", "domain": [0.04, 5], "nice": false},
          "axis": {"values": [0.1, 1], "format": "~g", "title": "Period (s)", "titleY": 38, "titleBaseline": "middle"}},
        "x2": {"field": "p2"},
        "y": {"field": "v1", "type": "quantitative", "scale": {"type": "log", "domain": [2, 500], "nice": false},
          "axis": {"values": [10, 100], "format": "~g", "title": "Velocity (cm/s)", "titleX": -36, "titleBaseline": "middle"}},
        "y2": {"field": "v2"}
      }
    },
    {
      "data": {"values": [
        {"label":"10cm","period":0.1051,"velocity":576},
        {"label":"100cm","period":1.029,"velocity":576}
      ]},
      "mark": {"type": "text", "align": "center", "baseline": "middle", "fontSize": 9, "font": "Liberation Sans", "fill": "black", "clip": false},
      "encoding": {
        "x": {"field": "period", "type": "quantitative", "scale": {"type": "log", "domain": [0.04, 5], "nice": false},
          "axis": {"values": [0.1, 1], "format": "~g", "title": "Period (s)", "titleY": 38, "titleBaseline": "middle"}},
        "y": {"field": "velocity", "type": "quantitative", "scale": {"type": "log", "domain": [2, 500], "nice": false},
          "axis": {"values": [10, 100], "format": "~g", "title": "Velocity (cm/s)", "titleX": -36, "titleBaseline": "middle"}},
        "text": {"field": "label"}
      }
    },
    {
      "data": {"values": [
        {"label":"100cm/s/s","period":5.6,"velocity":91.2},
        {"label":"10cm/s/s","period":5.6,"velocity":9.12}
      ]},
      "mark": {"type": "text", "align": "left", "baseline": "middle", "fontSize": 9, "font": "Liberation Sans", "fill": "black", "clip": false},
      "encoding": {
        "x": {"field": "period", "type": "quantitative", "scale": {"type": "log", "domain": [0.04, 5], "nice": false},
          "axis": {"values": [0.1, 1], "format": "~g", "title": "Period (s)", "titleY": 38, "titleBaseline": "middle"}},
        "y": {"field": "velocity", "type": "quantitative", "scale": {"type": "log", "domain": [2, 500], "nice": false},
          "axis": {"values": [10, 100], "format": "~g", "title": "Velocity (cm/s)", "titleX": -36, "titleBaseline": "middle"}},
        "text": {"field": "label"}
      }
    },
    {
      "data": {"values": [{"label":"h=0.05","period":3.41,"velocity":413}]},
      "mark": {"type": "text", "align": "center", "baseline": "middle", "fontSize": 16, "font": "Liberation Sans", "fill": "white", "stroke": "white", "strokeWidth": 6},
      "encoding": {
        "x": {"field": "period", "type": "quantitative", "scale": {"type": "log", "domain": [0.04, 5], "nice": false},
          "axis": {"values": [0.1, 1], "format": "~g", "title": "Period (s)", "titleY": 38, "titleBaseline": "middle"}},
        "y": {"field": "velocity", "type": "quantitative", "scale": {"type": "log", "domain": [2, 500], "nice": false},
          "axis": {"values": [10, 100], "format": "~g", "title": "Velocity (cm/s)", "titleX": -36, "titleBaseline": "middle"}},
        "text": {"field": "label"}
      }
    },
    {
      "data": {"values": [{"label":"h=0.05","period":3.41,"velocity":413}]},
      "mark": {"type": "text", "align": "center", "baseline": "middle", "fontSize": 16, "font": "Liberation Sans", "fill": "black"},
      "encoding": {
        "x": {"field": "period", "type": "quantitative", "scale": {"type": "log", "domain": [0.04, 5], "nice": false},
          "axis": {"values": [0.1, 1], "format": "~g", "title": "Period (s)", "titleY": 38, "titleBaseline": "middle"}},
        "y": {"field": "velocity", "type": "quantitative", "scale": {"type": "log", "domain": [2, 500], "nice": false},
          "axis": {"values": [10, 100], "format": "~g", "title": "Velocity (cm/s)", "titleX": -36, "titleBaseline": "middle"}},
        "text": {"field": "label"}
      }
    }
  ]
}
